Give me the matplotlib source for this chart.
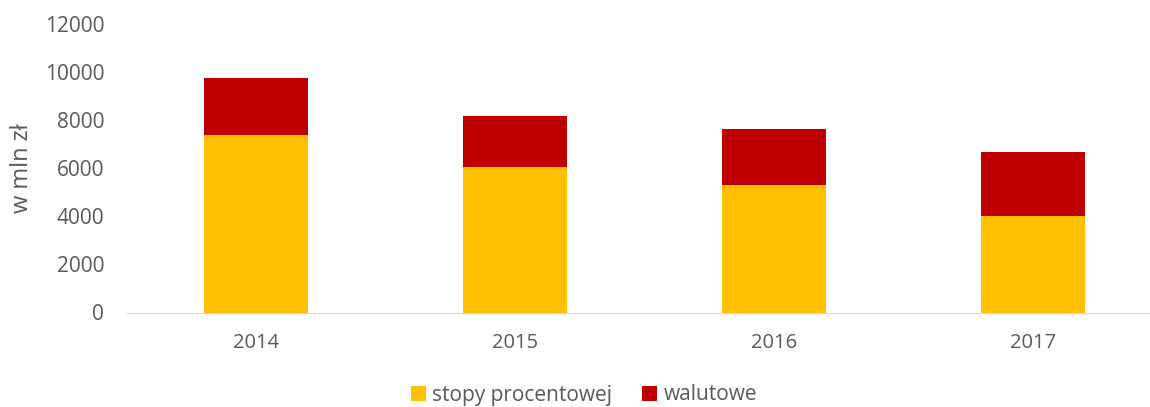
import matplotlib
matplotlib.use("Agg")
import matplotlib.pyplot as plt

# values (w mln zł)
years = ["2014", "2015", "2016", "2017"]
stopy_procentowej = [7370, 6050, 5300, 4000]
walutowe = [2370, 2135, 2320, 2660]
y_ticks = [0, 2000, 4000, 6000, 8000, 10000, 12000]

text_color = "#595959"
plt.rcParams["font.family"] = ["Open Sans", "DejaVu Sans"]

fig = plt.figure(figsize=(11.5, 4.07), dpi=100)
# axis spans a bit past the right edge, like the cropped original
ax = fig.add_axes([126.5 / 1150, 1 - 312.5 / 407, 1036 / 1150, 288.5 / 407])

x = range(len(years))
ax.bar(x, stopy_procentowej, width=0.4, color="#FFC000", label="stopy procentowej")
ax.bar(x, walutowe, width=0.4, bottom=stopy_procentowej, color="#C00000",
       label="walutowe")

ax.set_xlim(-0.5, len(years) - 0.5)
ax.set_ylim(0, 12000)
ax.set_yticks(y_ticks)
ax.set_xticks(list(x))
ax.set_xticklabels(years)
ax.tick_params(axis="y", length=0, pad=16, labelsize=15, colors=text_color)
ax.tick_params(axis="x", length=0, pad=15, labelsize=14.5, colors=text_color)
ax.set_ylabel("w mln zł", fontsize=17, color=text_color, labelpad=8)

for side in ["top", "right", "left"]:
    ax.spines[side].set_visible(False)
ax.spines["bottom"].set_color("#d9d9d9")
ax.spines["bottom"].set_clip_on(False)

fig.legend(loc="center", bbox_to_anchor=(0.508, 1 - 395 / 407), ncol=2,
           frameon=False, fontsize=15, labelcolor=text_color,
           handlelength=0.72, handleheight=0.72, handletextpad=0.28,
           columnspacing=1.45)

fig.savefig("out.png", dpi=100)
plt.close(fig)
